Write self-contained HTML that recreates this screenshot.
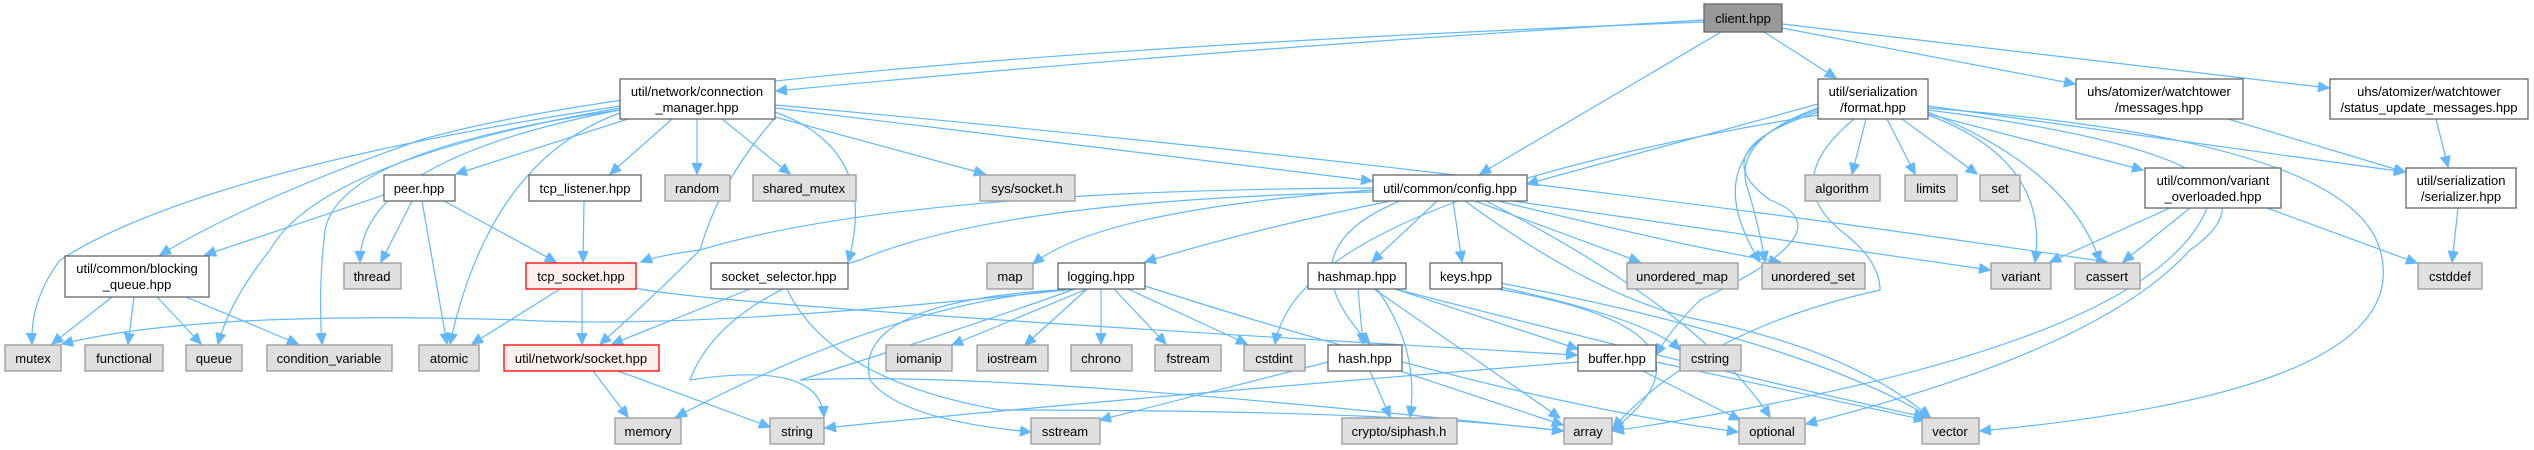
<!DOCTYPE html>
<html><head><meta charset="utf-8"><style>
html,body{margin:0;padding:0;background:#fff;}
svg{display:block;}
text{font-family:"Liberation Sans",Arial,sans-serif;font-size:13px;fill:#000;text-anchor:middle;}
.w{fill:#fff;stroke:#666;stroke-width:1.3;}
.g{fill:#e0e0e0;stroke:#999;stroke-width:1.3;}
.r{fill:#fff0f0;stroke:#f00;stroke-width:1.3;}
.c{fill:#999;stroke:#666;stroke-width:1.3;}
path{fill:none;stroke:#63b8ff;stroke-width:1.2;marker-end:url(#a);}
</style></head><body>
<svg width="2534" height="450" viewBox="0 0 2534 450" xmlns="http://www.w3.org/2000/svg">
<defs><marker id="a" markerUnits="userSpaceOnUse" markerWidth="12" markerHeight="12" refX="11" refY="5" orient="auto"><path d="M0,0 L11,5 L0,10 Z" style="fill:#63b8ff;stroke:#63b8ff;marker-end:none"/></marker></defs>

<!-- edges from client -->
<path d="M1704,20 Q1200,50 776,91"/>
<path d="M1704,22 Q700,60 420,140 Q250,200 160,255"/>
<path d="M1721,32 L1480,174"/>
<path d="M1764,32 L1836,78"/>
<path d="M1782,28 L2075,84"/>
<path d="M1782,24 L2329,88"/>
<!-- connection_manager -->
<path d="M628,119 L456,174"/>
<path d="M672,119 L610,174"/>
<path d="M697,119 L697,174"/>
<path d="M722,119 L790,174"/>
<path d="M775,117 L985,174"/>
<path d="M775,108 L1372,181"/>
<path d="M775,105 Q1500,170 2107,262"/>
<path d="M620,106 Q200,170 60,260 Q30,300 32,344"/>
<path d="M620,108 Q320,160 270,250 Q230,300 218,344"/>
<path d="M620,110 Q340,150 325,230 Q318,290 322,344"/>
<path d="M620,110 Q360,160 360,262"/>
<path d="M620,113 Q490,160 450,344"/>
<path d="M775,112 Q880,150 848,262"/>
<path d="M775,118 Q720,180 700,250 Q650,300 600,344"/>
<!-- peer -->
<path d="M384,195 L205,255"/>
<path d="M412,201 L381,262"/>
<path d="M422,201 L447,344"/>
<path d="M444,201 L556,262"/>
<!-- tcp_listener -->
<path d="M584,201 L583,262"/>
<!-- blocking_queue -->
<path d="M112,297 L52,344"/>
<path d="M134,297 L128,344"/>
<path d="M157,297 L201,344"/>
<path d="M186,297 L298,344"/>
<!-- tcp_socket -->
<path d="M560,289 L472,344"/>
<path d="M582,289 L582,344"/>
<path d="M636,288 Q700,305 1577,355"/>
<!-- socket_selector -->
<path d="M750,289 L612,344"/>
<path d="M787,289 Q830,380 1000,410 Q1400,410 1563,431"/>
<!-- socket.hpp -->
<path d="M593,371 L628,417"/>
<path d="M618,371 L770,427"/>
<!-- config -->
<path d="M1373,188 Q900,190 700,250 Q660,255 641,262"/>
<path d="M1373,192 Q1000,200 860,260 Q720,300 690,380 Q820,360 824,417"/>
<path d="M1373,190 Q1100,210 1033,264"/>
<path d="M1390,201 Q1250,230 1145,262"/>
<path d="M1400,201 Q1280,250 1370,344"/>
<path d="M1437,201 L1372,262"/>
<path d="M1453,201 L1462,262"/>
<path d="M1475,201 L1640,262"/>
<path d="M1498,201 Q1700,250 1780,262"/>
<path d="M1513,201 L1990,270"/>
<path d="M1465,201 Q1600,300 1700,320 Q1850,350 1930,417"/>
<path d="M1486,201 Q1700,310 1770,417"/>
<!-- logging -->
<path d="M1075,289 Q700,330 520,320 Q200,310 62,344"/>
<path d="M1075,289 Q900,300 676,417"/>
<path d="M1075,289 Q850,300 870,380 Q900,420 1031,432"/>
<path d="M1087,289 L952,345"/>
<path d="M1087,289 L1025,345"/>
<path d="M1101,289 L1101,344"/>
<path d="M1114,289 L1166,344"/>
<path d="M1128,289 L1247,344"/>
<path d="M1145,286 Q1500,400 1738,432"/>
<path d="M1075,289 Q960,330 800,380 Q1000,370 1563,431"/>
<!-- cstdint from format -->
<path d="M1818,115 Q1300,200 1275,344"/>
<!-- hashmap -->
<path d="M1358,289 L1363,344"/>
<path d="M1377,289 Q1420,350 1410,417"/>
<path d="M1374,289 L1560,418"/>
<path d="M1395,289 L1578,349"/>
<path d="M1395,289 Q1750,380 1925,417"/>
<!-- keys -->
<path d="M1500,287 Q1650,320 1680,350"/>
<path d="M1497,289 Q1740,330 1613,430"/>
<path d="M1500,283 Q1800,340 1930,417"/>
<!-- hash -->
<path d="M1328,362 L1100,420"/>
<path d="M1370,371 L1390,417"/>
<path d="M1400,371 L1563,425"/>
<!-- buffer -->
<path d="M1578,362 Q1100,400 825,428"/>
<path d="M1643,371 L1740,420"/>
<path d="M1656,362 L1925,420"/>
<!-- format -->
<path d="M1818,104 L1527,184"/>
<path d="M1866,119 L1852,174"/>
<path d="M1887,119 L1915,174"/>
<path d="M1902,119 L1977,174"/>
<path d="M1928,115 Q2050,160 2035,262"/>
<path d="M1928,112 Q2070,170 2100,262"/>
<path d="M1928,114 L2143,170"/>
<path d="M1928,106 L2405,172"/>
<path d="M1928,108 Q2350,140 2380,250 Q2420,390 1980,431"/>
<path d="M1928,110 Q2320,160 2190,250 Q2100,350 1806,424"/>
<path d="M1854,119 Q1780,180 1840,230 Q1880,260 1880,290 Q1700,330 1613,428"/>
<path d="M1818,112 Q1700,150 1770,200 Q1850,230 1700,300 Q1670,330 1656,355"/>
<path d="M1818,108 Q1730,140 1748,190 Q1760,230 1765,262"/>
<path d="M1818,110 Q1690,150 1760,262"/>
<!-- variant_overloaded -->
<path d="M2170,208 L2050,262"/>
<path d="M2190,208 L2123,262"/>
<path d="M2267,208 L2417,263"/>
<path d="M2207,208 Q2150,350 1613,431"/>
<!-- messages / status -> serializer -->
<path d="M2228,119 L2405,172"/>
<path d="M2436,119 L2448,167"/>
<path d="M2458,208 L2452,262"/>

<!-- nodes -->
<rect class="c" x="1704" y="4" width="78" height="28"/><text x="1743" y="23">client.hpp</text>
<rect class="w" x="620" y="79" width="155" height="40"/><text x="697" y="96">util/network/connection</text><text x="697" y="112">_manager.hpp</text>
<rect class="w" x="1818" y="79" width="110" height="40"/><text x="1873" y="96">util/serialization</text><text x="1873" y="112">/format.hpp</text>
<rect class="w" x="2076" y="79" width="167" height="40"/><text x="2159" y="96">uhs/atomizer/watchtower</text><text x="2159" y="112">/messages.hpp</text>
<rect class="w" x="2330" y="79" width="198" height="40"/><text x="2429" y="96">uhs/atomizer/watchtower</text><text x="2429" y="112">/status_update_messages.hpp</text>

<rect class="w" x="384" y="175" width="71" height="26"/><text x="419" y="193">peer.hpp</text>
<rect class="w" x="529" y="175" width="112" height="26"/><text x="585" y="193">tcp_listener.hpp</text>
<rect class="g" x="665" y="175" width="65" height="26"/><text x="697" y="193">random</text>
<rect class="g" x="753" y="175" width="103" height="26"/><text x="804" y="193">shared_mutex</text>
<rect class="g" x="980" y="175" width="95" height="26"/><text x="1027" y="193">sys/socket.h</text>
<rect class="w" x="1373" y="175" width="154" height="26"/><text x="1450" y="193">util/common/config.hpp</text>
<rect class="g" x="1805" y="175" width="75" height="26"/><text x="1842" y="193">algorithm</text>
<rect class="g" x="1905" y="175" width="52" height="26"/><text x="1931" y="193">limits</text>
<rect class="g" x="1980" y="175" width="40" height="26"/><text x="2000" y="193">set</text>
<rect class="w" x="2145" y="168" width="136" height="40"/><text x="2213" y="185">util/common/variant</text><text x="2213" y="201">_overloaded.hpp</text>
<rect class="w" x="2406" y="168" width="110" height="40"/><text x="2461" y="185">util/serialization</text><text x="2461" y="201">/serializer.hpp</text>

<rect class="w" x="65" y="256" width="144" height="41"/><text x="137" y="273">util/common/blocking</text><text x="137" y="289">_queue.hpp</text>
<rect class="g" x="344" y="263" width="57" height="26"/><text x="372" y="281">thread</text>
<rect class="r" x="526" y="263" width="110" height="26"/><text x="581" y="281">tcp_socket.hpp</text>
<rect class="w" x="711" y="263" width="137" height="26"/><text x="779" y="281">socket_selector.hpp</text>
<rect class="g" x="987" y="263" width="46" height="26"/><text x="1010" y="281">map</text>
<rect class="w" x="1058" y="263" width="87" height="26"/><text x="1101" y="281">logging.hpp</text>
<rect class="w" x="1308" y="263" width="98" height="26"/><text x="1357" y="281">hashmap.hpp</text>
<rect class="w" x="1430" y="263" width="72" height="26"/><text x="1466" y="281">keys.hpp</text>
<rect class="g" x="1627" y="263" width="111" height="26"/><text x="1682" y="281">unordered_map</text>
<rect class="g" x="1762" y="263" width="103" height="26"/><text x="1813" y="281">unordered_set</text>
<rect class="g" x="1991" y="263" width="60" height="26"/><text x="2021" y="281">variant</text>
<rect class="g" x="2075" y="263" width="65" height="26"/><text x="2107" y="281">cassert</text>
<rect class="g" x="2418" y="263" width="64" height="26"/><text x="2450" y="281">cstddef</text>

<rect class="g" x="5" y="345" width="56" height="26"/><text x="33" y="363">mutex</text>
<rect class="g" x="85" y="345" width="78" height="26"/><text x="124" y="363">functional</text>
<rect class="g" x="186" y="345" width="56" height="26"/><text x="214" y="363">queue</text>
<rect class="g" x="267" y="345" width="125" height="26"/><text x="329" y="363">condition_variable</text>
<rect class="g" x="419" y="345" width="60" height="26"/><text x="449" y="363">atomic</text>
<rect class="r" x="504" y="345" width="155" height="26"/><text x="581" y="363">util/network/socket.hpp</text>
<rect class="g" x="886" y="345" width="66" height="26"/><text x="919" y="363">iomanip</text>
<rect class="g" x="977" y="345" width="71" height="26"/><text x="1012" y="363">iostream</text>
<rect class="g" x="1071" y="345" width="61" height="26"/><text x="1101" y="363">chrono</text>
<rect class="g" x="1155" y="345" width="66" height="26"/><text x="1188" y="363">fstream</text>
<rect class="g" x="1244" y="345" width="61" height="26"/><text x="1274" y="363">cstdint</text>
<rect class="w" x="1328" y="345" width="74" height="26"/><text x="1365" y="363">hash.hpp</text>
<rect class="w" x="1578" y="345" width="78" height="26"/><text x="1617" y="363">buffer.hpp</text>
<rect class="g" x="1680" y="345" width="61" height="26"/><text x="1710" y="363">cstring</text>

<rect class="g" x="615" y="418" width="66" height="26"/><text x="648" y="436">memory</text>
<rect class="g" x="770" y="418" width="54" height="26"/><text x="797" y="436">string</text>
<rect class="g" x="1031" y="418" width="69" height="26"/><text x="1065" y="436">sstream</text>
<rect class="g" x="1342" y="418" width="115" height="26"/><text x="1399" y="436">crypto/siphash.h</text>
<rect class="g" x="1564" y="418" width="48" height="26"/><text x="1588" y="436">array</text>
<rect class="g" x="1739" y="418" width="66" height="26"/><text x="1772" y="436">optional</text>
<rect class="g" x="1922" y="418" width="57" height="26"/><text x="1950" y="436">vector</text>
</svg>
</body></html>
